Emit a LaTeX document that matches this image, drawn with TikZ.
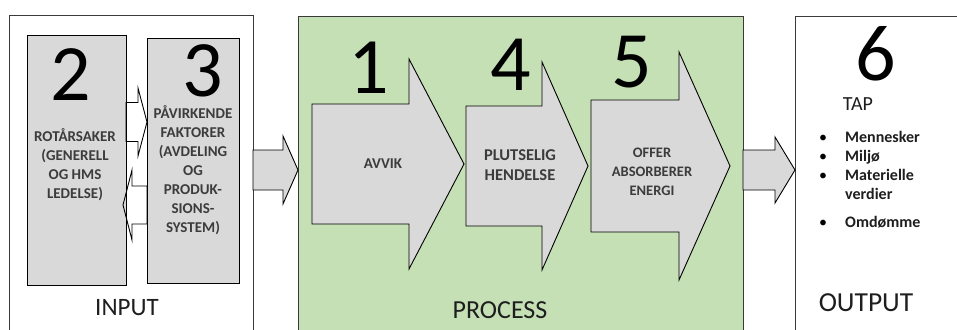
\documentclass[tikz,border=0pt]{standalone}
\usepackage{fontspec}
\setmainfont{Carlito}
\definecolor{framegray}{HTML}{3A3A3A}
\definecolor{boxgray}{HTML}{D9D9D9}
\definecolor{procgreen}{HTML}{C5E0B4}
\definecolor{textgray}{HTML}{3C3C3C}
\definecolor{labelgray}{HTML}{1E1E1E}
% block arrow: #1 tail x, #2 head base x, #3 tip x, #4 axis y, #5 half shaft, #6 half head
\newcommand{\blockarrowpath}[6]{(#1,#4-#5) -- (#2,#4-#5) -- (#2,#4-#6) -- (#3,#4) -- (#2,#4+#6) -- (#2,#4+#5) -- (#1,#4+#5) -- cycle}
\begin{document}
\begin{tikzpicture}[x=1pt,y=-1pt,
  frame/.style={draw=framegray, line width=1.3pt, inner sep=0pt, anchor=north west},
  factorbox/.style={draw=black, line width=1pt, fill=boxgray, inner sep=0pt, anchor=north west},
  bigarrow/.style={draw=black, line width=0.9pt, fill=boxgray, line join=miter},
  smallarrow/.style={draw=black, line width=0.9pt},
  bignum/.style={font=\fontsize{80}{80}\selectfont, text=black, anchor=base, inner sep=0pt},
  boxtext/.style={font=\bfseries\fontsize{15}{19}\selectfont, text=textgray, align=center, inner sep=0pt},
  arrowtext/.style={font=\bfseries\fontsize{15}{19.5}\selectfont, text=textgray, align=center, inner sep=0pt},
  stagelabel/.style={font=\fontsize{26}{26}\selectfont, text=labelgray, anchor=base, inner sep=0pt},
  lossitem/.style={font=\bfseries\fontsize{16}{19}\selectfont, text=labelgray, anchor=base west, inner sep=0pt},
  bulletdot/.style={font=\fontsize{16}{19}\selectfont, text=black, anchor=base, inner sep=0pt}
]
\useasboundingbox (0,0) rectangle (957,329);
\clip (0,0) rectangle (957,329);

% the three stages
\node[frame, fill=white, minimum width=244pt, minimum height=340pt] (inbox) at (9,15) {};
\node[frame, fill=procgreen, minimum width=445pt, minimum height=340pt] (procbox) at (298,16) {};
\node[frame, fill=white, minimum width=200pt, minimum height=340pt] (outbox) at (795,16) {};

% input: root causes and influencing factors
\node[factorbox, minimum width=99pt, minimum height=250pt] (rootbox) at (27,35) {};
\node[factorbox, minimum width=92pt, minimum height=245pt] (factorbox) at (147,38) {};
\draw[smallarrow] \blockarrowpath{126}{138}{147}{122}{19.5}{34};
\draw[smallarrow] \blockarrowpath{147}{132}{123}{205}{19}{35};

% flow between the stages
\draw[bigarrow] \blockarrowpath{253}{283}{298}{170}{20}{34};
\draw[bigarrow] \blockarrowpath{743}{775}{795}{170}{20}{33};

% process chain
\draw[bigarrow] \blockarrowpath{312}{409}{464}{164}{60}{105};
\draw[bigarrow] \blockarrowpath{466}{542}{588}{166}{60}{104};
\draw[bigarrow] \blockarrowpath{591}{679}{730}{166}{66}{114};

% numbers
\node[bignum] (n2) at (71,100) {2};
\node[bignum] (n3) at (203,96) {3};
\node[bignum] (n1) at (369,93) {1};
\node[bignum] (n4) at (511,90) {4};
\node[bignum] (n5) at (632,87) {5};
\node[bignum] (n6) at (876,80) {6};

% texts
\node[boxtext] (roottext) at (75,165) {ROTÅRSAKER\\(GENERELL\\OG HMS\\LEDELSE)};
\node[boxtext] (factortext) at (193,170) {PÅVIRKENDE\\FAKTORER\\(AVDELING\\OG\\PRODUK-\\SIONS-\\SYSTEM)};
\node[arrowtext] (t1) at (383,164) {AVVIK};
\node[arrowtext, font=\bfseries\fontsize{16.5}{20}\selectfont] (t4) at (520,165) {PLUTSELIG\\HENDELSE};
\node[arrowtext, font=\bfseries\fontsize{14.5}{19}\selectfont] (t5) at (652,172) {OFFER\\ABSORBERER\\ENERGI};

% stage labels
\node[stagelabel, font=\fontsize{25}{25}\selectfont] (inlabel) at (127,315) {INPUT};
\node[stagelabel] (proclabel) at (500,318) {PROCESS};
\node[stagelabel, font=\fontsize{27.5}{27.5}\selectfont] (outlabel) at (866,311) {OUTPUT};

% losses
\node[stagelabel, font=\fontsize{20}{20}\selectfont] (tap) at (858,110) {TAP};
\foreach \y/\name/\txt in {142/l1/Mennesker, 161/l2/Miljø, 180/l3/Materielle, 227/l5/Omdømme}{
  \node[bulletdot] at (823,\y) {•};
  \node[lossitem] (\name) at (845,\y) {\txt};
}
\node[lossitem] (l4) at (845,199) {verdier};
\end{tikzpicture}
\end{document}
